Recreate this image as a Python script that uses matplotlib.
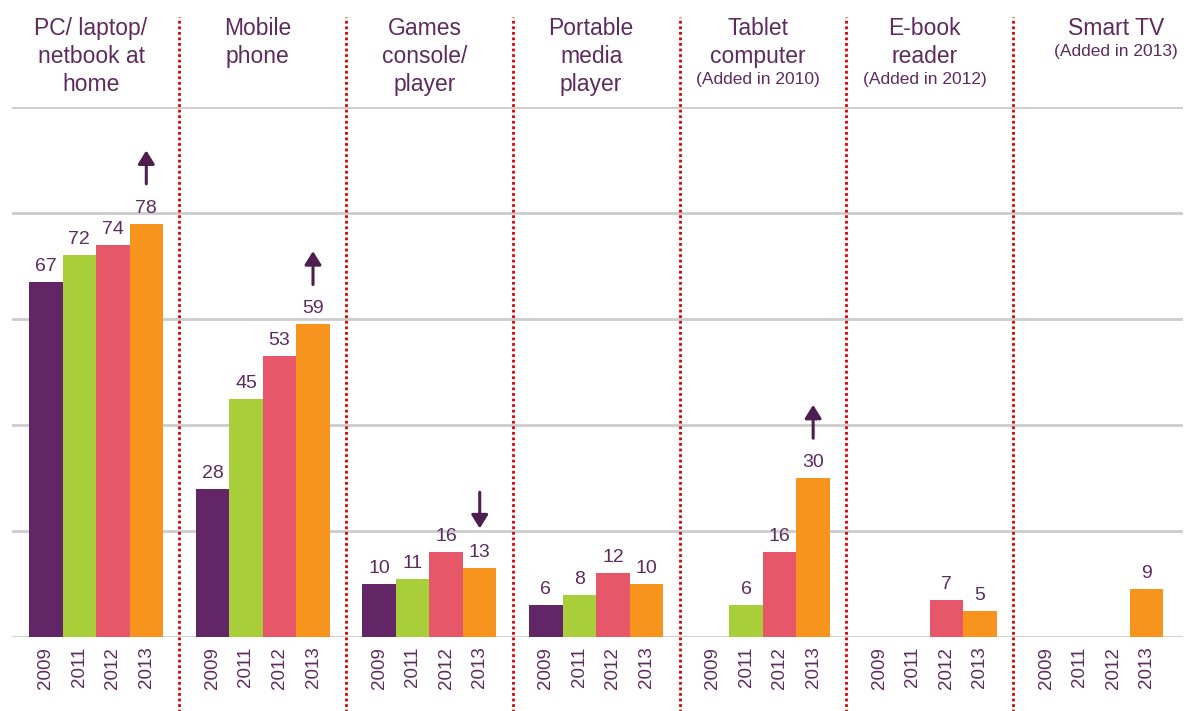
import numpy as np
import matplotlib
matplotlib.use("Agg")
import matplotlib.pyplot as plt

plt.rcParams['font.family'] = ['Liberation Sans', 'DejaVu Sans']

groups = ["PC/ laptop/\nnetbook at\nhome", "Mobile\nphone", "Games\nconsole/\nplayer",
          "Portable\nmedia\nplayer", "Tablet\ncomputer", "E-book\nreader", "Smart TV"]
notes = ["", "", "", "", "(Added in 2010)", "(Added in 2012)", "(Added in 2013)"]
years = ["2009", "2011", "2012", "2013"]
nan = np.nan
v2009 = [67, 28, 10, 6, nan, nan, nan]
v2011 = [72, 45, 11, 8, 6, nan, nan]
v2012 = [74, 53, 16, 12, 16, 7, nan]
v2013 = [78, 59, 13, 10, 30, 5, 9]
trend = [1, 1, -1, 0, 1, 0, 0]   # arrow on 2013 bar: up / down / none

colors = ["#622566", "#a8cf3a", "#e6576a", "#f7941e"]
txt = "#5e2b5f"
arrow_c = "#4f1e50"

fig = plt.figure(figsize=(11.88, 7.11), dpi=100)
ax = fig.add_axes([12 / 1188, 1 - 637 / 711, 1171 / 1188, 530 / 711])

w = 0.201
x = np.arange(len(groups))
series = [v2009, v2011, v2012, v2013]
for k, vals in enumerate(series):
    pos = x + (k - 1.5) * w
    for p, v in zip(pos, vals):
        if np.isnan(v):
            continue
        ax.bar(p, v, width=w, color=colors[k], zorder=3)
        ax.annotate(f"{v:g}", (p, v), xytext=(0, 5), textcoords="offset points",
                    ha="center", va="bottom", fontsize=14, color=txt)

# arrows above 2013 bars
for i, t in enumerate(trend):
    if t == 0:
        continue
    p = x[i] + 1.5 * w
    v = v2013[i]
    lo, hi = v + 7.5, v + 13.8
    if t > 0:
        start, end = lo, hi
    else:
        start, end = hi + 0.5, lo
    ax.annotate("", xy=(p, end), xytext=(p, start),
                arrowprops=dict(arrowstyle="-|>,head_width=0.5,head_length=0.8",
                                color=arrow_c, lw=2.2, shrinkA=0, shrinkB=0))

# gridlines
for g in range(0, 101, 20):
    ax.axhline(g, color="#cccccc", lw=2, zorder=1)

# separators
for i in range(len(groups) - 1):
    ax.axvline(i + 0.5, ymin=-0.15, ymax=1.17, color="#dd0000", lw=2,
               linestyle=(0, (1, 1)), clip_on=False, zorder=4)

# group titles
for i, (g, n) in enumerate(zip(groups, notes)):
    xc = x[i] - 0.03 if i < 6 else x[i] + 0.12
    lines = g.split("\n")
    y = 114.9
    for ln in lines:
        ax.text(xc, y, ln, ha="center", va="center", fontsize=16.5, color=txt, clip_on=False)
        y -= 5.3
    if n:
        y += 0.8
        ax.text(xc, y, n, ha="center", va="center", fontsize=12.5, color=txt, clip_on=False)

ticks = np.concatenate([x + (k - 1.5) * w for k in range(4)])
labels = [years[k] for k in range(4) for _ in x]
ax.set_xticks(ticks)
ax.set_xticklabels(labels, rotation=90, fontsize=13.5, color=txt)
ax.tick_params(axis="x", length=0, pad=7)
ax.set_yticks([])
ax.set_xlim(-0.504, 6.52)
ax.set_ylim(0, 100)
for s in ax.spines.values():
    s.set_visible(False)

fig.savefig("out.png", dpi=100)
